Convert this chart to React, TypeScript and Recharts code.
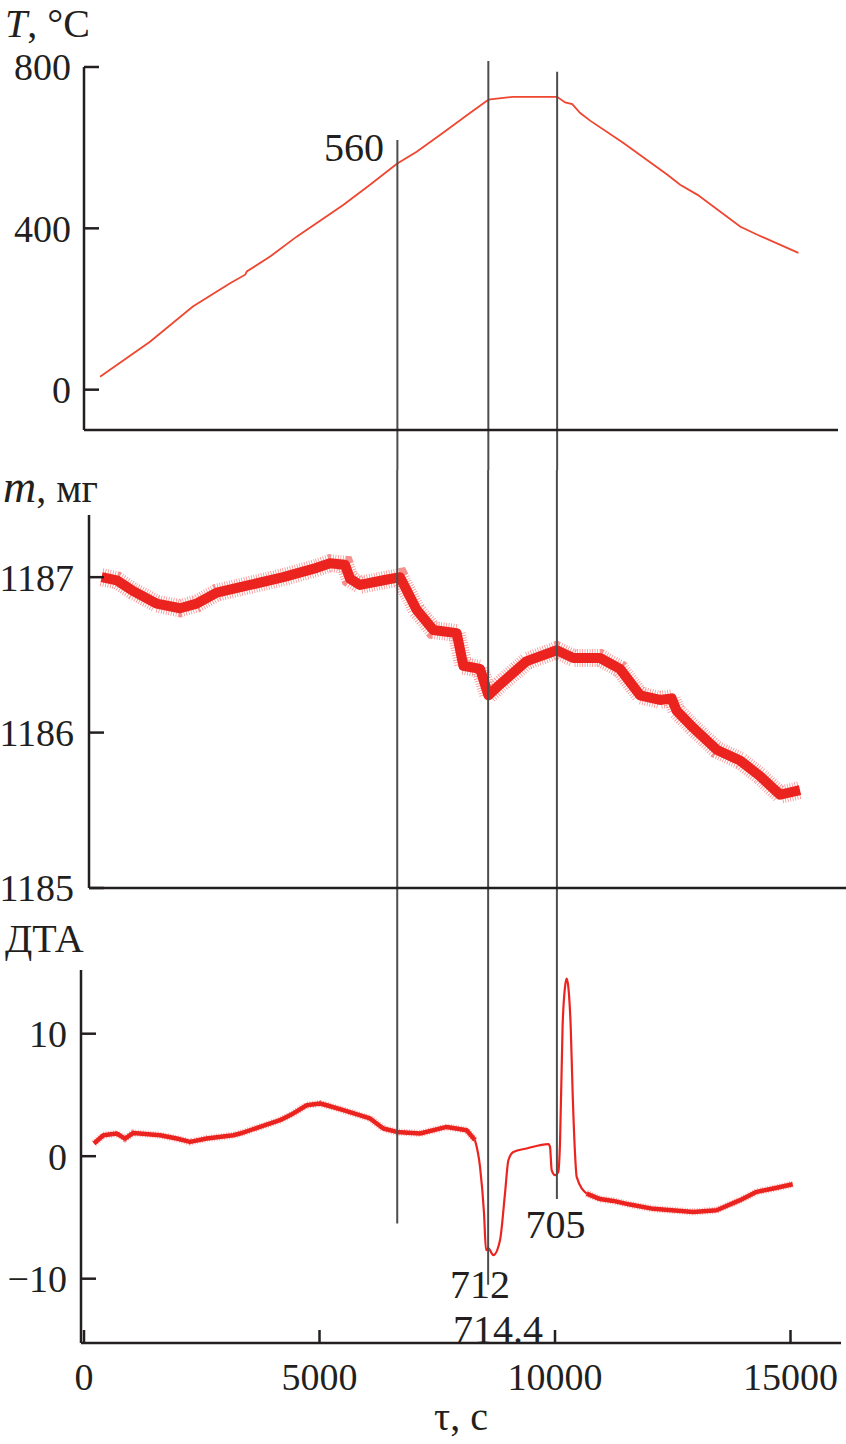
import React from "react";
import { LineChart, Line, XAxis, YAxis, ReferenceLine, ReferenceDot } from "recharts";

// temperature, °C
const tempTime = [340, 1400, 2310, 3100, 3420, 3455, 3950, 4520, 5500, 6070, 6640, 7060, 7620, 8190, 8550, 8620, 9100, 9900, 10040, 10210, 10360, 10530, 10740, 11440, 12380, 12650, 13020, 13930, 14290, 15160];
const tempC = [32, 119, 206, 264, 285, 293, 330, 380, 458, 508, 560, 590, 637, 686, 716, 720, 726, 726, 726, 712, 708, 686, 667, 612, 533, 508, 483, 404, 384, 339];

// mass, mg
const massTime = [375, 694, 1047, 1543, 2038, 2392, 2817, 3524, 4232, 4940, 5223, 5541, 5648, 5860, 6355, 6709, 7062, 7416, 7912, 8054, 8408, 8585, 8832, 9399, 10036, 10389, 10955, 11380, 11805, 12229, 12477, 12583, 12937, 13432, 13928, 14353, 14777, 15202];
const massMg = [1187.0, 1186.98, 1186.91, 1186.83, 1186.8, 1186.83, 1186.9, 1186.95, 1187.0, 1187.06, 1187.09, 1187.08, 1186.99, 1186.95, 1186.98, 1187.0, 1186.79, 1186.66, 1186.64, 1186.43, 1186.41, 1186.24, 1186.31, 1186.46, 1186.53, 1186.48, 1186.48, 1186.41, 1186.24, 1186.21, 1186.22, 1186.14, 1186.03, 1185.89, 1185.82, 1185.72, 1185.6, 1185.63];

// DTA signal: noisy heating part, sharp effects, noisy cooling part
const dtaHeatTime = [212, 410, 694, 870, 1047, 1614, 1968, 2251, 2605, 3170, 3312, 3737, 4161, 4444, 4728, 5011, 5153, 5506, 6072, 6355, 6639, 7134, 7700, 8125, 8301];
const dtaHeat = [1.04, 1.71, 1.85, 1.44, 1.9, 1.71, 1.44, 1.17, 1.44, 1.71, 1.85, 2.39, 2.94, 3.49, 4.16, 4.3, 4.16, 3.76, 3.08, 2.26, 1.98, 1.85, 2.39, 2.12, 1.31];
const dtaPeakTime = [8301, 8408, 8493, 8535, 8585, 8691, 8832, 8938, 9010, 9116, 9399, 9858, 9894, 9929, 10000, 10070, 10106, 10161, 10212, 10248, 10283, 10333, 10375, 10425, 10460, 10672];
const dtaPeak = [1.31, -0.87, -4.68, -7.67, -7.53, -8.08, -6.86, -3.05, -0.33, 0.35, 0.63, 0.98, 0.76, -1.14, -1.55, -1.28, 1.04, 10.6, 13.8, 14.5, 13.8, 10.6, 5.1, 0.2, -1.69, -3.05];
const dtaCoolTime = [10672, 10955, 11238, 11592, 12087, 12937, 13432, 13928, 14282, 14635, 15046];
const dtaCool = [-3.05, -3.5, -3.65, -3.95, -4.3, -4.55, -4.41, -3.59, -2.91, -2.64, -2.29];

// vertical guide lines (time) and where they end
const eventTimes = [6650, 8580, 10040];
const eventTempTop = [619, 815, 788];
const eventDtaBottom = [-5.5, -10.5, -3.5];

const notes = [
  { panel: "T", text: "560", t: 5732, v: 602 },
  { panel: "D", text: "712", t: 8408, v: -10.45 },
  { panel: "D", text: "714.4", t: 8790, v: -14.08 },
  { panel: "D", text: "705", t: 10010, v: -5.55 },
];

const zip = (ts: number[], vs: number[]) => ts.map((t, i) => ({ t, v: vs[i] }));
const tempData = zip(tempTime, tempC);
const massData = zip(massTime, massMg);
const heatData = zip(dtaHeatTime, dtaHeat);
const peakData = zip(dtaPeakTime, dtaPeak);
const coolData = zip(dtaCoolTime, dtaCool);

const FONT = '"Liberation Serif", "Times New Roman", serif';
const INK = "#231f20";
const GUIDE = "#4d4d4d";
const RED = "#ec2420";
const axisLineStyle = { stroke: INK, strokeWidth: 2.5 };
const tickText = { fill: INK, fontSize: 38, fontFamily: FONT };
const minus = (v: number) => (v < 0 ? "\u2212" + Math.abs(v) : String(v));

const guideProps = { stroke: GUIDE, strokeWidth: 2, ifOverflow: "visible" as const };
const noteLabel = (text: string) => ({
  value: text,
  position: "center" as const,
  fill: INK,
  fontSize: 40,
  fontFamily: FONT,
});

// a solid core plus a hatched halo to suggest the noisy recording
const noisy = (key: string, data: { t: number; v: number }[], core: number, halo: number) => [
  <Line key={key + "-core"} data={data} dataKey="v" type="linear" stroke={RED} strokeWidth={core} strokeLinejoin="round" dot={false} activeDot={false} isAnimationActive={false} />,
  <Line key={key + "-halo"} data={data} dataKey="v" type="linear" stroke={RED} strokeOpacity={0.5} strokeWidth={halo} strokeDasharray="0.8 1.7" dot={false} activeDot={false} isAnimationActive={false} />,
];

export default function App() {
  return (
    <div style={{ position: "absolute", left: 0, top: 0, width: 846, height: 1444, background: "#fff" }}>
      <LineChart width={846} height={470} margin={{ top: 67, right: 8, bottom: 0, left: 0 }}>
        <XAxis
          dataKey="t"
          type="number"
          domain={[0, 16000]}
          allowDataOverflow
          ticks={[5000, 10000, 15000]}
          tick={false}
          tickSize={-13}
          height={40}
          axisLine={axisLineStyle}
          tickLine={axisLineStyle}
        />
        <YAxis
          type="number"
          domain={[-100, 800]}
          allowDataOverflow
          ticks={[0, 400, 800]}
          interval={0}
          width={84}
          tickSize={-15}
          tickMargin={28}
          tick={tickText}
          axisLine={axisLineStyle}
          tickLine={axisLineStyle}
        />
        <Line data={tempData} dataKey="v" type="linear" stroke="#ef4630" strokeWidth={1.8} dot={false} activeDot={false} isAnimationActive={false} />
        {eventTimes.map((t, i) => (
          <ReferenceLine key={t} segment={[{ x: t, y: eventTempTop[i] }, { x: t, y: -300 }]} {...guideProps} />
        ))}
        {notes.filter((n) => n.panel === "T").map((n) => (
          <ReferenceDot key={n.text} x={n.t} y={n.v} r={0} fill="none" stroke="none" ifOverflow="visible" label={noteLabel(n.text)} />
        ))}
      </LineChart>

      <LineChart width={846} height={450} margin={{ top: 45, right: 0, bottom: 0, left: 0 }}>
        <XAxis
          dataKey="t"
          type="number"
          domain={[106, 16178]}
          allowDataOverflow
          ticks={[5000, 10000, 15000]}
          tick={false}
          tickSize={-13}
          height={32}
          axisLine={axisLineStyle}
          tickLine={axisLineStyle}
        />
        <YAxis
          type="number"
          domain={[1185, 1187.4]}
          allowDataOverflow
          ticks={[1185, 1186, 1187]}
          interval={0}
          width={89}
          tickSize={-15}
          tickMargin={30}
          tick={tickText}
          axisLine={axisLineStyle}
          tickLine={axisLineStyle}
        />
        {noisy("mass", massData, 10, 18)}
        {eventTimes.map((t) => (
          <ReferenceLine key={t} segment={[{ x: t, y: 1188.5 }, { x: t, y: 1184 }]} {...guideProps} />
        ))}
      </LineChart>

      <LineChart width={846} height={524} margin={{ top: 50, right: 5, bottom: 0, left: 0 }}>
        <XAxis
          dataKey="t"
          type="number"
          domain={[-64, 16072]}
          allowDataOverflow
          ticks={[0, 5000, 10000, 15000]}
          interval={0}
          tick={tickText}
          tickSize={-13}
          tickMargin={33}
          height={101}
          axisLine={axisLineStyle}
          tickLine={axisLineStyle}
          label={{ value: "τ, с", position: "insideBottom", offset: 14, fill: INK, fontSize: 40, fontFamily: FONT }}
        />
        <YAxis
          type="number"
          domain={[-15.25, 15.2]}
          allowDataOverflow
          ticks={[-10, 0, 10]}
          interval={0}
          width={81}
          tickSize={-15}
          tickMargin={29}
          tick={tickText}
          tickFormatter={minus}
          axisLine={axisLineStyle}
          tickLine={axisLineStyle}
        />
        {noisy("heat", heatData, 4.5, 7)}
        <Line data={peakData} dataKey="v" type="monotone" stroke={RED} strokeWidth={2.2} dot={false} activeDot={false} isAnimationActive={false} />
        {noisy("cool", coolData, 4.5, 7)}
        {eventTimes.map((t, i) => (
          <ReferenceLine key={t} segment={[{ x: t, y: 22 }, { x: t, y: eventDtaBottom[i] }]} {...guideProps} />
        ))}
        {notes.filter((n) => n.panel === "D").map((n) => (
          <ReferenceDot key={n.text} x={n.t} y={n.v} r={0} fill="none" stroke="none" ifOverflow="visible" label={noteLabel(n.text)} />
        ))}
      </LineChart>

      <svg width={846} height={1444} style={{ position: "absolute", left: 0, top: 0, pointerEvents: "none" }}>
        <text x={5} y={37} fontSize={40} fontFamily={FONT} fill={INK}>
          <tspan fontStyle="italic">T</tspan>, °C
        </text>
        <text x={3} y={502} fontFamily={FONT} fill={INK}>
          <tspan fontSize={46} fontStyle="italic">m</tspan>
          <tspan fontSize={40}>, мг</tspan>
        </text>
        <text x={5} y={952} fontSize={40} fontFamily={FONT} fill={INK}>
          ДТА
        </text>
      </svg>
    </div>
  );
}
